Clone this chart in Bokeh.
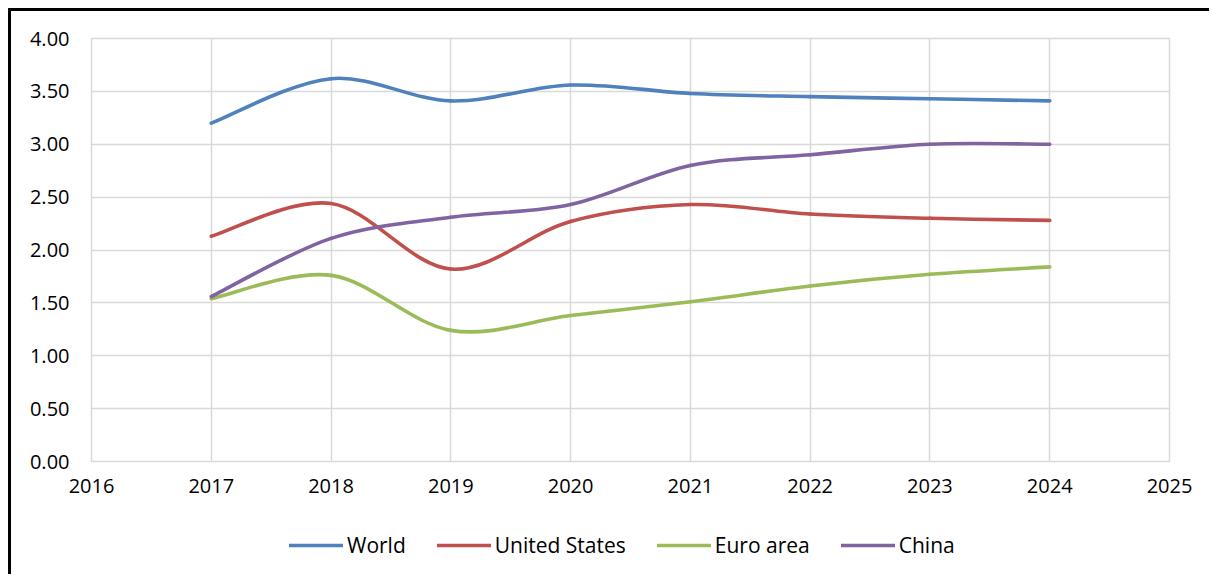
from bokeh.plotting import figure
from bokeh.layouts import column
from bokeh.models import Legend, LegendItem, FixedTicker, ColumnDataSource
from bokeh.embed import file_html
from bokeh.resources import INLINE

years = [2017, 2018, 2019, 2020, 2021, 2022, 2023, 2024]
world = [3.20, 3.62, 3.41, 3.56, 3.48, 3.45, 3.43, 3.41]
united_states = [2.13, 2.44, 1.82, 2.27, 2.43, 2.34, 2.30, 2.28]
euro_area = [1.54, 1.76, 1.24, 1.38, 1.51, 1.66, 1.77, 1.84]
china = [1.56, 2.11, 2.31, 2.43, 2.80, 2.90, 3.00, 3.00]

series_names = ["World", "United States", "Euro area", "China"]
series_values = [world, united_states, euro_area, china]
series_colors = ["#4F81BD", "#C0504D", "#9BBB59", "#8064A2"]

x_ticks = list(range(2016, 2026))
y_ticks = [0, 0.5, 1.0, 1.5, 2.0, 2.5, 3.0, 3.5, 4.0]

FONT = "Open Sans"
W = 1198

p = figure(width=W, height=505, output_backend="svg", toolbar_location=None,
           x_range=(2016, 2025), y_range=(0, 4),
           min_border_left=80, min_border_top=27, min_border_right=40, min_border_bottom=55)

p.outline_line_color = "#D9D9D9"
p.outline_line_width = 1.5
p.background_fill_color = "white"
p.border_fill_color = "white"

for ax in (p.xaxis[0], p.yaxis[0]):
    ax.axis_line_color = None
    ax.major_tick_line_color = None
    ax.minor_tick_line_color = None
    ax.major_tick_out = 0
    ax.major_tick_in = 0
    ax.major_label_text_font = FONT
    ax.major_label_text_font_size = "20px"
    ax.major_label_text_color = "black"

p.xaxis.ticker = FixedTicker(ticks=x_ticks)
p.yaxis.ticker = FixedTicker(ticks=y_ticks)
p.yaxis.major_label_overrides = {t: f"{t:.2f}" for t in y_ticks}
p.xaxis.major_label_standoff = 17
p.yaxis.major_label_standoff = 22

p.xgrid.ticker = FixedTicker(ticks=x_ticks)
p.ygrid.ticker = FixedTicker(ticks=y_ticks)
p.grid.grid_line_color = "#D9D9D9"
p.grid.grid_line_width = 1.5


def smooth_segments(xs, ys):
    # Excel-like smoothed line: cubic Bezier with Catmull-Rom control points
    n = len(xs)
    x0, y0, x1, y1, cx0, cy0, cx1, cy1 = ([] for _ in range(8))
    for i in range(n - 1):
        pxm = xs[i - 1] if i > 0 else xs[i]
        pym = ys[i - 1] if i > 0 else ys[i]
        pxp = xs[i + 2] if i + 2 < n else xs[i + 1]
        pyp = ys[i + 2] if i + 2 < n else ys[i + 1]
        x0.append(xs[i]); y0.append(ys[i])
        x1.append(xs[i + 1]); y1.append(ys[i + 1])
        cx0.append(xs[i] + (xs[i + 1] - pxm) / 6.0)
        cy0.append(ys[i] + (ys[i + 1] - pym) / 6.0)
        cx1.append(xs[i + 1] - (pxp - xs[i]) / 6.0)
        cy1.append(ys[i + 1] - (pyp - ys[i]) / 6.0)
    return dict(x0=x0, y0=y0, x1=x1, y1=y1, cx0=cx0, cy0=cy0, cx1=cx1, cy1=cy1)


for name, vals, col in zip(series_names, series_values, series_colors):
    src = ColumnDataSource(smooth_segments(years, vals))
    p.bezier(x0="x0", y0="y0", x1="x1", y1="y1", cx0="cx0", cy0="cy0",
             cx1="cx1", cy1="cy1", source=src, line_color=col, line_width=3.6,
             line_cap="round")

# legend strip below the chart (its series lie outside this strip's ranges)
pl = figure(width=W, height=58, output_backend="svg", toolbar_location=None,
            x_range=(0, 1), y_range=(0, 1), x_axis_type=None, y_axis_type=None,
            min_border=0)
pl.outline_line_color = None
pl.background_fill_color = "white"
pl.border_fill_color = "white"

items = []
for name, vals, col in zip(series_names, series_values, series_colors):
    r = pl.line(x=years, y=vals, line_color=col, line_width=3.6, line_cap="round")
    items.append(LegendItem(label=name, renderers=[r]))

legend = Legend(items=items, orientation="horizontal", location=(198, 15),
                glyph_width=54, glyph_height=20, label_standoff=4, spacing=31,
                padding=0, margin=0, border_line_color=None,
                background_fill_alpha=0,
                label_text_font=FONT, label_text_font_size="21px",
                label_text_color="black")
pl.add_layout(legend, "center")

layout = column(p, pl, spacing=0,
                styles={"border-left": "3px solid black", "border-top": "3px solid black",
                        "margin-left": "8px", "margin-top": "8px"})

open("out.html", "w").write(file_html(layout, INLINE))
